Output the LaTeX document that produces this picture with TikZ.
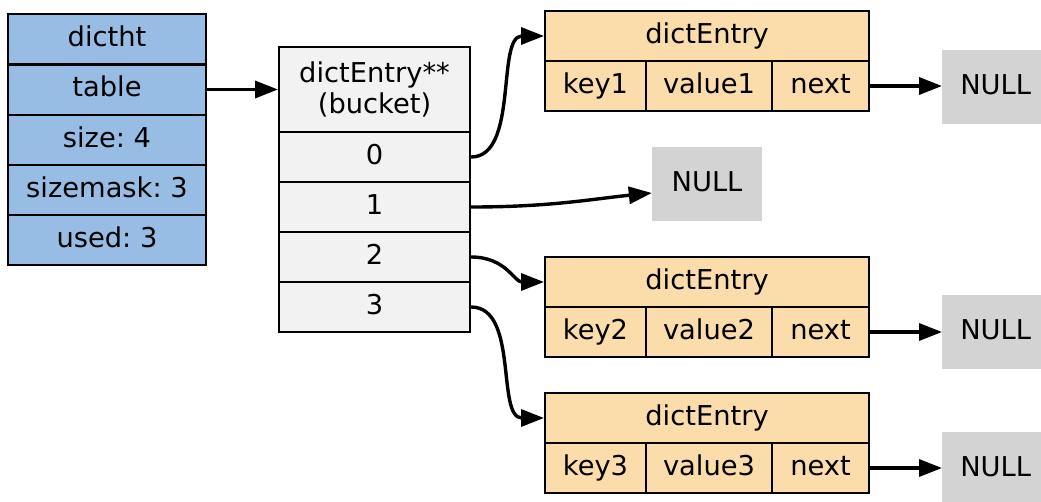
\documentclass[tikz,border=0pt]{standalone}
\usepackage{fontspec}
\setmainfont{DejaVu Sans}
\frenchspacing
\usetikzlibrary{arrows.meta}
\definecolor{htblue}{HTML}{97BDE4}
\definecolor{bucketgray}{HTML}{F2F2F2}
\definecolor{entryorange}{HTML}{FADDAB}
\definecolor{nullgray}{HTML}{D3D3D3}
\begin{document}
\begin{tikzpicture}[x=1pt,y=-1pt,
  lbl/.style={font=\fontsize{27.3}{31}\selectfont, align=center},
  cell/.style={lbl, draw=black, line width=2pt, inner sep=0pt, text height=19pt, text depth=5pt},
  htcell/.style={cell, fill=htblue, minimum width=198pt, minimum height=50pt},
  bkcell/.style={cell, fill=bucketgray, minimum width=191pt, minimum height=50pt},
  encell/.style={cell, fill=entryorange, minimum height=50pt},
  nullbox/.style={lbl, fill=nullgray, minimum width=110pt, minimum height=74pt, inner sep=0pt, text height=19pt, text depth=5pt},
  link/.style={line width=3.4pt, -{Triangle[length=23pt,width=17pt]}}]
\useasboundingbox (0,0) rectangle (1041,501);
\clip (0,0) rectangle (1041,501);

% dictht
\node[htcell] (ht0) at (107,39) {dictht};
\node[htcell] (ht1) at (107,89.5) {table};
\node[htcell] (ht2) at (107,140) {size: 4};
\node[htcell] (ht3) at (107,190) {sizemask: 3};
\node[htcell] (ht4) at (107,240) {used: 3};

% bucket
\node[lbl, draw=black, line width=2pt, fill=bucketgray, inner sep=0pt, minimum width=191pt, minimum height=85pt] (bh) at (374.5,89.5) {dictEntry**\\(bucket)};
\node[bkcell] (b0) at (374.5,157) {0};
\node[bkcell] (b1) at (374.5,207) {1};
\node[bkcell] (b2) at (374.5,257) {2};
\node[bkcell] (b3) at (374.5,307) {3};

% dictEntry 1
\node[encell, minimum width=324pt] (e1h) at (707,36) {dictEntry};
\node[encell, minimum width=101pt] (e1k) at (595.5,86) {key1};
\node[encell, minimum width=126pt] (e1v) at (709,86) {value1};
\node[encell, minimum width=97pt] (e1n) at (820.5,86) {next};

% dictEntry 2
\node[encell, minimum width=324pt] (e2h) at (707,282) {dictEntry};
\node[encell, minimum width=101pt] (e2k) at (595.5,332) {key2};
\node[encell, minimum width=126pt] (e2v) at (709,332) {value2};
\node[encell, minimum width=97pt] (e2n) at (820.5,332) {next};

% dictEntry 3
\node[encell, minimum width=324pt] (e3h) at (707,418) {dictEntry};
\node[encell, minimum width=101pt] (e3k) at (595.5,468) {key3};
\node[encell, minimum width=126pt] (e3v) at (709,468) {value3};
\node[encell, minimum width=97pt] (e3n) at (820.5,468) {next};

% NULL boxes
\node[nullbox] (nm) at (707,184) {NULL};
\node[nullbox, anchor=west] (n1) at (942,87) {\hspace*{-3pt}NULL};
\node[nullbox, anchor=west] (n2) at (942,332) {\hspace*{-3pt}NULL};
\node[nullbox, anchor=west] (n3) at (942,469) {\hspace*{-3pt}NULL};

% connectors
\draw[link] (ht1.east) -- (bh.west);
\draw[link] (b0.east) .. controls +(48,0) and +(-48,0) .. (e1h.west);
\draw[link] (b1.east) .. controls +(80,0) and +(-60,6) .. ([yshift=-9pt]nm.west);
\draw[link] (b2.east) .. controls +(35,0) and +(-30,0) .. (e2h.west);
\draw[link] (b3.east) .. controls +(48,0) and +(-48,0) .. (e3h.west);
\draw[link] (e1n.east) -- (n1.west |- e1n.east);
\draw[link] (e2n.east) -- (n2.west |- e2n.east);
\draw[link] (e3n.east) -- (n3.west |- e3n.east);
\end{tikzpicture}
\end{document}
